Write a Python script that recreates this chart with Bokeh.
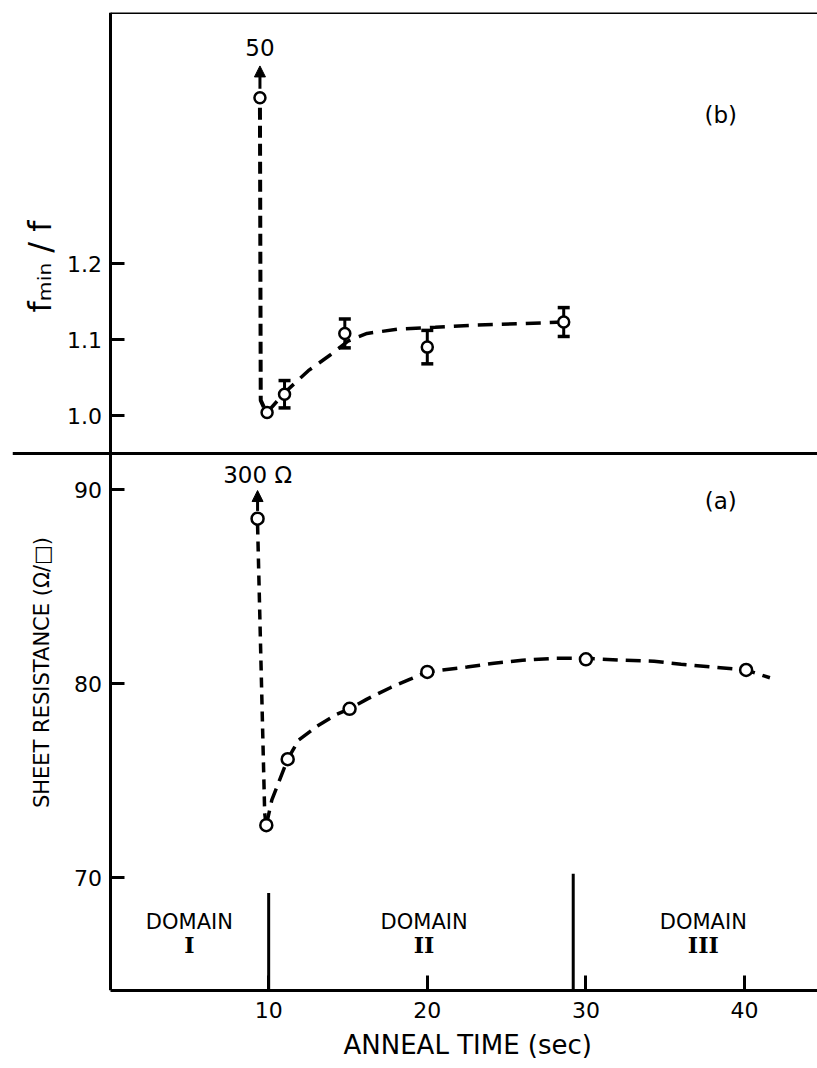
from bokeh.plotting import figure
from bokeh.models import (Range1d, LinearAxis, FixedTicker, Span, Arrow, NormalHead,
                          Whisker, TeeHead, ColumnDataSource, Label, Title)
from bokeh.core.properties import value
from bokeh.embed import file_html
from bokeh.resources import INLINE

# ---------------- data ----------------
# panel (b): f_min / f
b_time = [9.9, 11.0, 14.8, 20.0, 28.6]
b_ratio = [1.004, 1.028, 1.108, 1.090, 1.123]
b_err = [0.0, 0.018, 0.019, 0.022, 0.019]
b_off_time = [9.45]
b_off_ratio = [1.418]
b_off_label = "50"
b_drop_time = [9.45, 9.5, 9.85]
b_drop_ratio = [1.405, 1.02, 1.004]
b_curve_time = [9.9, 11.0, 12.5, 13.9, 15.0, 16.2, 18.3, 20.5, 23.0, 26.0, 28.6]
b_curve_ratio = [1.004, 1.030, 1.059, 1.080, 1.098, 1.108, 1.114, 1.116, 1.119, 1.121, 1.123]

# panel (a): sheet resistance
a_time = [9.85, 11.2, 15.1, 20.0, 30.0, 40.1]
a_res = [72.7, 76.1, 78.7, 80.6, 81.25, 80.7]
a_off_time = [9.3]
a_off_res = [88.5]
a_off_label = "300 \u03a9"
a_drop_time = [9.3, 9.75, 9.85]
a_drop_res = [88.2, 73.3, 72.7]
a_curve_time = [9.85, 10.2, 11.2, 11.9, 13.05, 14.25, 15.1, 16.2, 17.7, 19.0, 20.0,
                22.5, 24.2, 26.0, 28.0, 30.0, 32.5, 34.3, 36.0, 38.0, 40.1, 41.6]
a_curve_res = [72.7, 74.0, 76.1, 77.1, 77.8, 78.4, 78.7, 79.2, 79.8, 80.25, 80.6,
               80.85, 81.05, 81.2, 81.3, 81.3, 81.2, 81.15, 81.0, 80.85, 80.7, 80.3]

domain_x = [5.0, 19.8, 37.4]
domain_word = ["DOMAIN", "DOMAIN", "DOMAIN"]
domain_num = ["I", "II", "III"]
domain_word_y = [67.7, 67.7, 67.7]
domain_num_y = [66.5, 66.5, 66.5]
domain_bound_x = [10.0, 29.2]
domain_bound_top = [69.2, 70.2]

x_ticks = [10, 20, 30, 40]
a_ticks = [70, 80, 90]
b_ticks = [1.0, 1.1, 1.2]

X_RANGE = (-6.15, 44.6)
A_RANGE = (64.18, 114.59)
B_RANGE = (0.2434, 1.5303)
SPLIT_A = 91.86
SPLIT_B = 0.95

FONT = "DejaVu Sans"
INK = "black"

p = figure(width=817, height=1068, output_backend="svg", toolbar_location=None,
           x_range=Range1d(*X_RANGE), y_range=Range1d(*A_RANGE),
           y_axis_location=None, min_border_left=12, min_border_right=0,
           min_border_top=12, min_border_bottom=78)
p.extra_y_ranges = {"b": Range1d(*B_RANGE)}
p.outline_line_color = None
p.xgrid.visible = False
p.ygrid.visible = False
p.background_fill_color = "white"
p.border_fill_color = "white"

# x axis (below)
xa = p.xaxis[0]
xa.ticker = FixedTicker(ticks=x_ticks)
xa.bounds = (0, X_RANGE[1])
xa.major_tick_in = 15
xa.major_tick_out = 0
xa.minor_tick_line_color = None
xa.axis_line_width = 3
xa.major_tick_line_width = 3
xa.major_label_text_font = FONT
xa.major_label_text_font_size = "22px"
xa.major_label_text_color = INK
xa.major_label_standoff = 11

# x axis title, placed under the drawn axis line (which starts at t = 0)
p.add_layout(Title(text="ANNEAL TIME (sec)", align="left", offset=331,
                   text_font=FONT, text_font_size="26px", text_font_style="normal",
                   text_color=INK, standoff=15, vertical_align="bottom"), "below")

# top border line
top_ax = LinearAxis(ticker=FixedTicker(ticks=[]), fixed_location=A_RANGE[1],
                    bounds=(0, X_RANGE[1]), axis_line_width=3,
                    major_label_text_font_size="0px")
p.add_layout(top_ax, "above")


def style_y(ax, ticks):
    ax.ticker = FixedTicker(ticks=ticks)
    ax.major_tick_in = 14
    ax.major_tick_out = 0
    ax.minor_tick_line_color = None
    ax.axis_line_width = 3
    ax.major_tick_line_width = 3
    ax.major_label_text_font = FONT
    ax.major_label_text_font_size = "22px"
    ax.major_label_text_color = INK
    ax.major_label_standoff = 8


def label_axis(label, size, bounds, standoff, range_name="default"):
    ax = LinearAxis(fixed_location=0, y_range_name=range_name, bounds=bounds,
                    ticker=FixedTicker(ticks=[]), axis_line_color=None,
                    major_tick_line_color=None, minor_tick_line_color=None,
                    major_label_standoff=0, major_tick_out=0, major_tick_in=0)
    ax.axis_label = label
    ax.axis_label_text_font = FONT
    ax.axis_label_text_font_size = size
    ax.axis_label_text_font_style = "normal"
    ax.axis_label_text_color = INK
    ax.axis_label_standoff = standoff
    return ax


ya = LinearAxis(fixed_location=0, bounds=(A_RANGE[0], SPLIT_A))
style_y(ya, a_ticks)
p.add_layout(ya, "left")
p.add_layout(label_axis("SHEET RESISTANCE (\u03a9/\u25a1)", "21px", (70.0, 91.14), 57), "left")

yb = LinearAxis(fixed_location=0, y_range_name="b", bounds=(SPLIT_B, B_RANGE[1]))
style_y(yb, b_ticks)
yb.major_label_overrides = {1.0: "1.0", 1.1: "1.1", 1.2: "1.2"}
p.add_layout(yb, "left")
p.add_layout(label_axis("f\u2098\u1d62\u2099 / f", "32px", (1.0, 1.392), 52, "b"), "left")

# separator between panels
p.add_layout(Span(location=SPLIT_A, dimension="width", line_color=INK, line_width=3))

# ---------- panel (a) ----------
p.line(a_drop_time, a_drop_res, line_color=INK, line_width=3.5, line_dash="10 7")
p.line(a_curve_time, a_curve_res, line_color=INK, line_width=3.5, line_dash="15 8")
p.scatter(a_time + a_off_time, a_res + a_off_res, size=12, marker="circle",
          fill_color="white", line_color=INK, line_width=2.5)
p.add_layout(Arrow(x_start=a_off_time[0], y_start=a_off_res[0] + 0.4,
                   x_end=a_off_time[0], y_end=89.95, line_width=3, line_color=INK,
                   end=NormalHead(size=11, fill_color=INK, line_color=INK)))
p.add_layout(Label(x=a_off_time[0], y=90.75, text=a_off_label, text_align="center",
                   text_baseline="middle", text_font=FONT, text_font_size="23px",
                   text_color=INK))
p.add_layout(Label(x=38.5, y=89.4, text="(a)", text_align="center",
                   text_baseline="middle", text_font=FONT, text_font_size="23px",
                   text_color=INK))

# domains
p.segment(x0=domain_bound_x, y0=[A_RANGE[0]] * 2, x1=domain_bound_x, y1=domain_bound_top,
          line_color=INK, line_width=3)
p.text(x=domain_x, y=domain_word_y, text=domain_word, text_font=value(FONT),
       text_font_size="21px", text_align="center", text_baseline="middle",
       text_color=INK)
p.text(x=domain_x, y=domain_num_y, text=domain_num, text_font=value("DejaVu Serif"),
       text_font_style="bold", text_font_size="22px", text_align="center",
       text_baseline="middle", text_color=INK)

# ---------- panel (b) ----------
p.line(b_drop_time, b_drop_ratio, line_color=INK, line_width=4, line_dash="12 6",
       y_range_name="b")
p.line(b_curve_time, b_curve_ratio, line_color=INK, line_width=3.5, line_dash="15 9",
       y_range_name="b")
eb = ColumnDataSource(dict(
    t=[t for t, e in zip(b_time, b_err) if e > 0],
    lo=[r - e for r, e in zip(b_ratio, b_err) if e > 0],
    hi=[r + e for r, e in zip(b_ratio, b_err) if e > 0]))
p.add_layout(Whisker(source=eb, base="t", lower="lo", upper="hi", dimension="height",
                     y_range_name="b", line_width=3, line_color=INK,
                     upper_head=TeeHead(size=12, line_width=3.5, line_color=INK),
                     lower_head=TeeHead(size=12, line_width=3.5, line_color=INK)))
p.scatter(b_time + b_off_time, b_ratio + b_off_ratio, size=11, marker="circle",
          fill_color="white", line_color=INK, line_width=2.5, y_range_name="b")
p.add_layout(Arrow(x_start=b_off_time[0], y_start=b_off_ratio[0] + 0.012,
                   x_end=b_off_time[0], y_end=1.46, line_width=3, y_range_name="b",
                   line_color=INK,
                   end=NormalHead(size=11, fill_color=INK, line_color=INK)))
p.add_layout(Label(x=b_off_time[0], y=1.484, text=b_off_label, text_align="center",
                   text_baseline="middle", text_font=FONT, text_font_size="23px",
                   y_range_name="b", text_color=INK))
p.add_layout(Label(x=38.5, y=1.395, text="(b)", text_align="center",
                   text_baseline="middle", text_font=FONT, text_font_size="23px",
                   y_range_name="b", text_color=INK))

open("out.html", "w").write(file_html(p, INLINE))
